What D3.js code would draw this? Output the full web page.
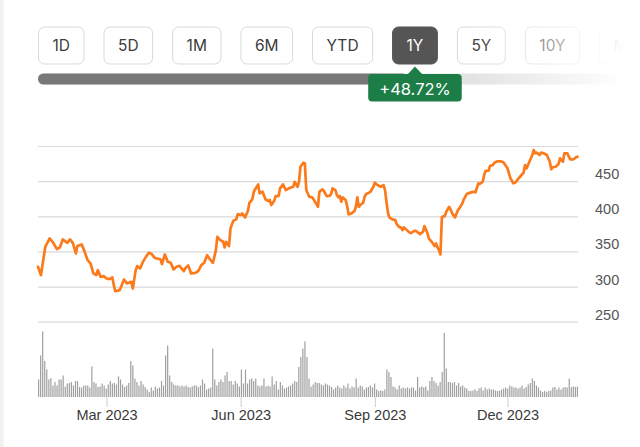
<!DOCTYPE html>
<html>
<head>
<meta charset="utf-8">
<script src="https://cdn.jsdelivr.net/npm/d3@7"></script>
<style>
  body { margin: 0; background: #fff; }
  svg { font-family: Inter, "Helvetica Neue", Arial, sans-serif; display: block; }
</style>
</head>
<body>
<svg id="chart" width="640" height="447"></svg>
<script>
// range buttons + change badge
const ranges = ["1D", "5D", "1M", "6M", "YTD", "1Y", "5Y", "10Y", "MAX"];
const activeRange = "1Y";
const changeLabel = "+48.72%";

// closing price, day of 2023 (1 = Jan 1, 366 = Jan 1 2024)
const priceDay = [
  13, 15, 18, 21, 23, 26, 28, 30, 33, 35,
  37, 39, 40, 43, 45, 47, 49, 51, 53, 54,
  56, 58, 60, 62, 64, 65, 66, 69, 70, 72,
  74, 75, 77, 78, 80, 81, 83, 85, 87, 89,
  91, 93, 95, 97, 98, 100, 102, 104, 106, 108,
  110, 113, 114, 116, 118, 121, 123, 125, 127, 129,
  131, 133, 135, 136, 138, 140, 141, 142, 144, 145,
  147, 149, 150, 152, 153, 155, 157, 158, 160, 161,
  163, 164, 165, 167, 169, 171, 172, 173, 175, 176,
  178, 179, 181, 183, 185, 187, 188, 189, 191, 192,
  193, 195, 196, 197, 199, 201, 202, 205, 206, 208,
  209, 211, 213, 214, 215, 217, 218, 219, 220, 221,
  222, 224, 225, 226, 228, 230, 231, 232, 233, 234,
  236, 237, 238, 240, 241, 243, 244, 245, 247, 248,
  250, 251, 252, 253, 254, 256, 258, 259, 261, 262,
  263, 264, 266, 268, 269, 271, 272, 274, 275, 277,
  278, 280, 281, 283, 285, 286, 287, 288, 289, 290,
  292, 293, 295, 296, 297, 299, 301, 302, 304, 305,
  307, 308, 310, 312, 313, 315, 316, 318, 319, 320,
  322, 323, 325, 326, 328, 330, 332, 333, 335, 337,
  338, 339, 341, 342, 344, 346, 347, 348, 350, 352,
  353, 354, 355, 357, 358, 360, 362, 364, 365, 366,
  368, 370, 371, 373, 374, 376, 378, 380, 382, 383
];
const priceClose = [
  328.1, 316.2, 356.6, 368.5, 363.7, 353.3, 355.7, 367.1, 362.3, 367.1,
  361.4, 347.2, 357.6, 360.0, 349.4, 337.6, 332.9, 318.7, 316.2, 323.4,
  313.8, 314.8, 311.5, 310.5, 313.0, 302.0, 293.4, 294.9, 299.6, 310.1,
  304.4, 305.3, 306.7, 297.3, 323.4, 329.1, 325.8, 335.2, 342.3, 348.0,
  346.2, 340.9, 340.0, 338.6, 331.9, 345.7, 335.2, 333.8, 324.4, 328.1,
  329.5, 321.9, 325.8, 330.1, 318.7, 319.5, 322.4, 330.5, 333.8, 344.7,
  338.6, 333.8, 351.9, 370.8, 366.1, 363.7, 355.7, 363.7, 357.6, 382.8,
  393.6, 395.6, 403.1, 401.7, 404.1, 398.4, 407.8, 419.2, 424.1, 434.9,
  442.0, 445.4, 432.6, 434.9, 424.1, 421.7, 423.1, 416.0, 422.1, 428.8,
  428.8, 439.7, 445.4, 437.3, 439.7, 441.2, 442.0, 449.1, 442.0, 449.1,
  470.5, 476.2, 475.4, 437.3, 427.8, 426.9, 424.1, 413.5, 434.9, 438.3,
  436.3, 428.8, 429.2, 431.6, 439.7, 437.3, 430.2, 426.9, 428.8, 420.7,
  426.9, 423.1, 414.5, 402.7, 404.1, 407.4, 413.5, 426.9, 413.5, 416.0,
  419.2, 427.8, 431.6, 433.5, 434.9, 442.0, 447.7, 445.9, 443.0, 442.0,
  444.4, 437.3, 420.7, 405.0, 398.4, 395.6, 394.6, 388.9, 384.2, 384.2,
  380.3, 384.2, 380.3, 376.5, 376.5, 379.3, 379.3, 376.5, 374.6, 377.9,
  386.0, 376.5, 368.5, 363.7, 357.6, 361.4, 355.7, 351.9, 345.7, 399.3,
  400.3, 406.4, 413.5, 409.8, 404.1, 398.4, 408.8, 411.3, 418.4, 424.1,
  431.6, 432.6, 434.0, 434.9, 434.0, 446.9, 445.9, 449.1, 458.7, 464.8,
  464.8, 471.5, 472.9, 476.2, 478.2, 478.2, 477.2, 474.4, 468.2, 454.0,
  450.6, 446.9, 449.1, 452.6, 457.3, 462.0, 472.9, 468.2, 477.6, 487.2,
  494.3, 489.6, 490.5, 487.2, 490.5, 489.6, 487.2, 477.6, 466.8, 469.7,
  470.5, 474.4, 482.5, 477.6, 489.6, 489.6, 481.1, 481.1, 483.9, 484.8
];

// daily volume (millions), one per session
const volume = [
  3.5, 8.3, 13.1, 7.2, 5.5, 3.5, 3.8, 2.3, 3.0, 2.3,
  3.5, 3.5, 4.3, 2.1, 2.7, 2.8, 3.0, 2.3, 3.2, 3.2,
  2.0, 1.9, 2.3, 2.3, 2.3, 1.9, 6.1, 3.0, 2.7, 2.0,
  2.1, 2.7, 2.3, 1.7, 2.5, 3.2, 2.7, 2.8, 2.5, 4.1,
  3.5, 2.5, 2.0, 2.3, 2.8, 7.2, 6.3, 3.7, 3.0, 2.3,
  3.2, 2.5, 2.0, 1.5, 1.0, 1.9, 1.3, 2.1, 1.7, 1.9,
  3.2, 2.3, 8.3, 10.3, 4.3, 3.0, 2.5, 2.3, 2.3, 2.1,
  2.3, 2.1, 2.3, 2.0, 1.9, 2.1, 2.3, 2.3, 2.0, 2.3,
  3.5, 2.7, 1.5, 1.7, 1.9, 9.7, 3.5, 2.3, 3.0, 3.5,
  3.0, 4.3, 5.0, 3.2, 3.2, 2.5, 3.2, 2.7, 2.1, 5.5,
  2.7, 5.5, 2.7, 3.5, 3.7, 3.2, 3.7, 2.3, 2.1, 2.3,
  3.7, 2.1, 2.3, 2.1, 4.1, 2.5, 3.2, 1.5, 3.0, 2.3,
  1.7, 1.9, 2.1, 2.3, 2.7, 3.2, 3.0, 6.0, 8.0, 9.7,
  11.1, 8.0, 3.7, 2.1, 2.5, 3.0, 2.8,
  2.8, 2.5, 2.3, 2.7, 2.5, 2.3, 2.0, 1.5, 1.9, 2.3,
  1.9, 1.7, 2.3, 1.9, 2.7, 1.7, 2.1, 1.9, 3.7, 1.9,
  2.3, 2.1, 1.5, 1.9, 2.0, 2.3, 1.9, 2.7, 1.5, 1.2,
  1.3, 1.2, 1.5, 5.5, 5.0, 4.0, 2.1, 1.9, 1.5, 2.3,
  1.7, 1.9, 1.7, 1.9, 1.7, 1.9, 1.9, 1.3, 4.0, 1.9,
  2.1, 1.9, 2.1, 1.3, 3.2, 4.0, 3.2, 2.8, 2.3, 3.0,
  5.0, 12.8, 5.7, 3.0, 3.0, 2.8, 3.0, 2.3, 2.8, 2.1,
  2.3, 1.9, 1.7, 1.2, 1.2, 1.3, 1.5, 1.2, 1.7, 1.9,
  1.3, 1.9, 1.5, 1.7, 1.5, 1.5, 1.3, 1.2, 1.3, 1.5,
  1.7, 1.9, 1.7, 2.3, 2.1, 1.9, 1.9, 1.7, 1.9, 2.3,
  1.7, 2.0, 2.5, 2.8, 3.7, 3.2, 2.3, 1.9, 1.3, 1.0,
  1.2, 1.0, 1.2, 1.3, 1.9, 2.0, 1.5, 1.9, 1.5, 1.9,
  2.0, 1.9, 3.7, 2.0, 2.1, 2.0, 2.1
];

const yGrid = [250, 300, 350, 400, 450, 500];
const yLabels = [250, 300, 350, 400, 450];
const xTicks = ["2023-03-01", "2023-06-01", "2023-09-01", "2023-12-01"];

const svg = d3.select("#chart");
const width = +svg.attr("width");
const height = +svg.attr("height");

const plot = { left: 38, right: 578, top: 146, bottom: 321.7 };
const volBase = 397;

const data = priceDay.map((d, i) => ({
  date: new Date(2023, 0, d),
  close: priceClose[i]
}));

const x = d3.scaleTime()
  .domain([new Date(2023, 0, 13), new Date(2023, 0, 383)])
  .range([plot.left, 577.5]);

const y = d3.scaleLinear()
  .domain([250, 500])
  .range([plot.bottom, plot.top]);

const xBand = d3.scaleBand()
  .domain(d3.range(volume.length))
  .range([plot.left, plot.right])
  .paddingInner(0.42);

const yVol = d3.scaleLinear()
  .domain([0, 15])
  .range([volBase, 322]);

// thin strip on the left edge
svg.append("rect")
  .attr("width", 3.5).attr("height", height)
  .attr("fill", "#f3f1ef");

// ---- header: range buttons
const header = svg.append("g");

// progress track
header.append("rect")
  .attr("x", plot.left).attr("y", 73.5)
  .attr("width", width - plot.left + 10).attr("height", 11)
  .attr("rx", 5.5)
  .attr("fill", "#e3e3e3");
header.append("rect")
  .attr("x", plot.left).attr("y", 73.5)
  .attr("width", 370).attr("height", 11)
  .attr("rx", 5.5)
  .attr("fill", "#787878");

let bx = plot.left;
let activeCenter = 0;
ranges.forEach((r) => {
  const g = header.append("g").attr("transform", `translate(${bx},27)`);
  const isActive = r === activeRange;
  const rect = g.append("rect")
    .attr("y", 0).attr("height", 37)
    .attr("rx", 6)
    .attr("fill", isActive ? "#555555" : "#fff")
    .attr("stroke", isActive ? "#555555" : "#d9d9d9")
    .attr("stroke-width", 1);
  const t = g.append("text")
    .attr("y", 24)
    .attr("font-size", 15.5)
    .attr("fill", isActive ? "#fff" : "#3c3c3c")
    .text(r);
  const w = t.node().getComputedTextLength() + 29;
  rect.attr("x", 0.5).attr("width", w - 1);
  t.attr("x", w / 2).attr("text-anchor", "middle");
  if (isActive) activeCenter = bx + w / 2;
  bx += w + 19;
});

// fade the right side of the header
const defs = svg.append("defs");
const fade = defs.append("linearGradient")
  .attr("id", "fade")
  .attr("gradientUnits", "userSpaceOnUse")
  .attr("x1", 470).attr("x2", 625).attr("y1", 0).attr("y2", 0);
fade.append("stop").attr("offset", 0).attr("stop-color", "#fff").attr("stop-opacity", 0);
fade.append("stop").attr("offset", 1).attr("stop-color", "#fff").attr("stop-opacity", 1);
svg.append("rect")
  .attr("x", 470).attr("y", 15)
  .attr("width", 170).attr("height", 80)
  .attr("fill", "url(#fade)");

// change badge
const badge = svg.append("g").attr("transform", `translate(${activeCenter},0)`);
badge.append("path")
  .attr("d", "M-8,75 L0,66.5 L8,75 Z")
  .attr("fill", "#1c7d47");
const badgeText = badge.append("text")
  .attr("y", 95)
  .attr("text-anchor", "middle")
  .attr("font-size", 16.5)
  .attr("fill", "#fff")
  .text(changeLabel);
const bw = badgeText.node().getComputedTextLength() + 22;
badge.insert("rect", "text")
  .attr("x", -bw / 2).attr("y", 74)
  .attr("width", bw).attr("height", 27.5)
  .attr("rx", 4)
  .attr("fill", "#1c7d47");

// ---- grid
const grid = svg.append("g")
  .attr("transform", `translate(${plot.right},0)`)
  .call(d3.axisLeft(y).tickValues(yGrid).tickSize(plot.right - plot.left).tickFormat(""));
grid.select(".domain").remove();
grid.selectAll(".tick line").attr("stroke", "#dadada").attr("stroke-width", 1.2);

// y labels, sitting just above their gridline
const yAxis = svg.append("g")
  .attr("transform", `translate(595,0)`)
  .call(d3.axisRight(y).tickValues(yLabels).tickSize(0).tickPadding(0));
yAxis.select(".domain").remove();
yAxis.selectAll("text")
  .attr("dy", -2.5)
  .attr("font-size", 14.5)
  .attr("font-family", null)
  .attr("fill", "#555");

// ---- volume
svg.append("g")
  .selectAll("rect")
  .data(volume)
  .join("rect")
  .attr("x", (d, i) => xBand(i))
  .attr("y", (d) => yVol(d))
  .attr("width", xBand.bandwidth())
  .attr("height", (d) => volBase - yVol(d))
  .attr("fill", "#9f9f9f");

// ---- x axis
const parse = d3.timeParse("%Y-%m-%d");
const xAxis = svg.append("g")
  .attr("transform", `translate(0,${volBase})`)
  .call(d3.axisBottom(x)
    .tickValues(xTicks.map(parse))
    .tickSize(10)
    .tickPadding(3)
    .tickFormat(d3.timeFormat("%b %Y")));
xAxis.select(".domain").remove();
xAxis.selectAll(".tick line").attr("stroke", "#cfcfcf");
xAxis.selectAll("text")
  .attr("font-size", 14.5)
  .attr("font-family", null)
  .attr("fill", "#3a3a3a");

// ---- price line
const line = d3.line()
  .x((d) => x(d.date))
  .y((d) => y(d.close));

svg.append("path")
  .datum(data)
  .attr("fill", "none")
  .attr("stroke", "#fb7a1c")
  .attr("stroke-width", 2.7)
  .attr("stroke-linejoin", "round")
  .attr("stroke-linecap", "round")
  .attr("d", line);
</script>
</body>
</html>
